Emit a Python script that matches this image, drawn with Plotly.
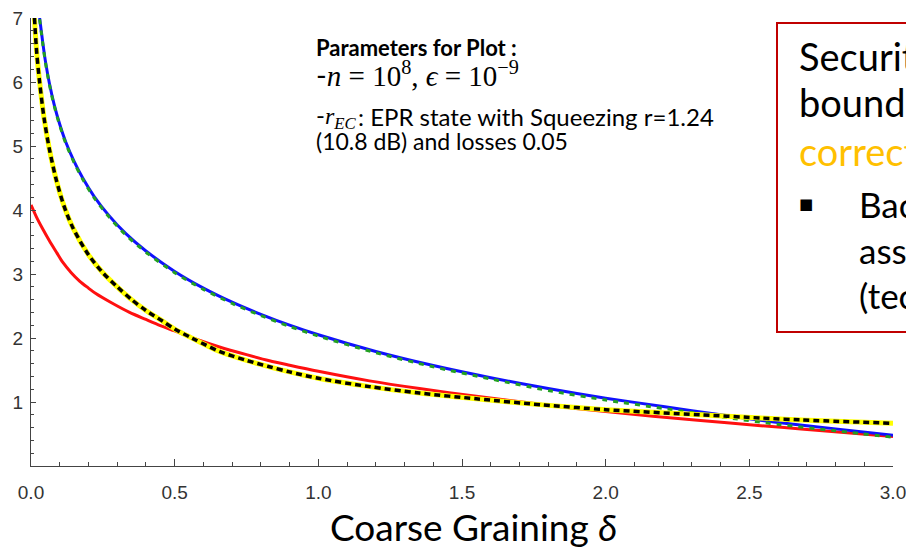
import plotly.graph_objects as go

# ---- data ----
red_x = [0.0, 0.02, 0.04, 0.064, 0.09, 0.111, 0.14, 0.169, 0.2, 0.227, 0.28, 0.343, 0.4, 0.45, 0.5,
         0.575, 0.656, 0.75, 0.83, 0.9, 1.0, 1.178, 1.352, 1.55, 1.78, 2.0, 2.33, 2.54, 2.68, 3.0]
red_y = [4.08, 3.88, 3.71, 3.52, 3.33, 3.18, 3.02, 2.89, 2.78, 2.69, 2.55, 2.40, 2.29, 2.195, 2.11,
         1.98, 1.86, 1.74, 1.645, 1.575, 1.48, 1.33, 1.21, 1.09, 0.96, 0.85, 0.71, 0.63, 0.58, 0.46]

blue_x = [0.03, 0.04, 0.05, 0.064, 0.08, 0.1, 0.122, 0.15, 0.18, 0.22, 0.27, 0.33, 0.4, 0.5,
          0.6, 0.7, 0.8, 0.9, 1.0, 1.2, 1.4, 1.6, 1.8, 2.0, 2.2, 2.4, 2.6, 2.8, 3.0]
blue_y = [7.0, 6.65, 6.33, 5.98, 5.66, 5.34, 5.05, 4.76, 4.50, 4.21, 3.92, 3.63, 3.36, 3.04,
          2.78, 2.56, 2.37, 2.20, 2.05, 1.79, 1.57, 1.38, 1.21, 1.06, 0.93, 0.80, 0.68, 0.58, 0.48]
green_y = [6.98, 6.63, 6.31, 5.96, 5.64, 5.32, 5.03, 4.74, 4.48, 4.19, 3.90, 3.61, 3.34, 3.02,
           2.76, 2.54, 2.35, 2.18, 2.03, 1.77, 1.55, 1.36, 1.18, 1.03, 0.90, 0.77, 0.65, 0.55, 0.45]

yel_x = [0.012, 0.02, 0.03, 0.045, 0.064, 0.088, 0.115, 0.146, 0.2, 0.25, 0.3, 0.35, 0.4, 0.459,
         0.5, 0.555, 0.575, 0.656, 0.75, 0.83, 0.9, 1.0, 1.178, 1.352, 1.55, 1.78, 2.0, 2.33, 2.54,
         2.68, 3.0]
yel_y = [7.0, 6.45, 6.0, 5.45, 4.95, 4.47, 4.06, 3.72, 3.30, 3.02, 2.80, 2.60, 2.43, 2.26,
         2.14, 2.01, 1.965, 1.79, 1.65, 1.55, 1.47, 1.37, 1.24, 1.14, 1.05, 0.955, 0.88, 0.80, 0.75,
         0.72, 0.667]

x_ticks = [0.0, 0.5, 1.0, 1.5, 2.0, 2.5, 3.0]
x_tick_text = ["0.0", "0.5", "1.0", "1.5", "2.0", "2.5", "3.0"]
y_ticks = [1, 2, 3, 4, 5, 6, 7]
y_tick_text = ["1", "2", "3", "4", "5", "6", "7"]

# ---- layout geometry (pixels) ----
W, H = 906, 548
ML, MR, MT, MB = 31, 13, 18, 82
PW, PH = W - ML - MR, H - MT - MB


def px(x):
    return (x - ML) / PW


def py(y):
    return (H - MB - y) / PH


fig = go.Figure()
sm = 0.8
fig.add_trace(go.Scatter(x=red_x, y=red_y, mode="lines", line=dict(color="#FF1010", width=3,
                         shape="spline", smoothing=sm)))
fig.add_trace(go.Scatter(x=blue_x, y=blue_y, mode="lines", line=dict(color="#1010FF", width=3,
                         shape="spline", smoothing=sm)))
fig.add_trace(go.Scatter(x=blue_x, y=green_y, mode="lines",
                         line=dict(color="#22A022", width=3, dash="5px,6px", shape="spline", smoothing=sm)))
fig.add_trace(go.Scatter(x=yel_x, y=yel_y, mode="lines", line=dict(color="#FFFF00", width=5,
                         shape="spline", smoothing=sm)))
fig.add_trace(go.Scatter(x=yel_x, y=yel_y, mode="lines",
                         line=dict(color="#000000", width=3.5, dash="6px,4px", shape="spline", smoothing=sm)))

axis_col = "#444444"
tick_font = dict(family="Liberation Sans, Arial, sans-serif", size=19, color="#333333")

fig.update_xaxes(range=[0, 3.0], showgrid=False, zeroline=False, showline=True, linecolor=axis_col,
                 linewidth=1, ticks="inside", ticklen=7, tickwidth=1, tickcolor=axis_col,
                 tickvals=x_ticks, ticktext=x_tick_text, tickfont=tick_font, ticklabelstandoff=9,
                 ticklabeloverflow="allow", automargin=False,
                 minor=dict(ticks="inside", ticklen=4, tickwidth=1, tickcolor=axis_col, dtick=0.1, tick0=0))
fig.update_yaxes(range=[0, 7], showgrid=False, zeroline=False, showline=True, linecolor=axis_col,
                 linewidth=1, ticks="inside", ticklen=5, tickwidth=1, tickcolor=axis_col,
                 tickvals=y_ticks, ticktext=y_tick_text, tickfont=tick_font, ticklabelstandoff=3,
                 ticklabeloverflow="allow", automargin=False,
                 minor=dict(ticks="inside", ticklen=3, tickwidth=1, tickcolor=axis_col, dtick=0.2, tick0=0))

body = "Lato, 'Open Sans', sans-serif"
math = "'Liberation Serif', 'DejaVu Serif', serif"
NB = "\u00a0"
dash_span = "<span style='font-family:Lato'>-</span>"

ann = []
# x-axis title
ann.append(dict(x=px(473), y=py(526), xref="paper", yref="paper", showarrow=False,
                text="Coarse Graining <span style='font-family:" + math + "'><i>δ</i></span>",
                font=dict(family=body, size=37, color="#000000"), xanchor="center", yanchor="middle"))
# parameter block: (text, font, size, x, y)
p_lines = [
    ("<b>Parameters for Plot :</b>", body, 22, 314, 47),
    (dash_span + "<i>n</i>" + NB + "=" + NB + "10<sup>8</sup>," + NB + "<i>ϵ</i>" + NB + "=" + NB
     + "10<sup>−9</sup>", math, 29, 314, 74),
    (dash_span + "<i>r</i><sub><i>EC</i></sub>", math, 24, 314, 116),
    (": EPR state with Squeezing r=1.24", body, 24, 356, 116),
    ("(10.8 dB) and losses 0.05", body, 23, 314, 141),
]
for t, fam, fs, xx, yy in p_lines:
    ann.append(dict(x=px(xx), y=py(yy), xref="paper", yref="paper", showarrow=False, text=t,
                    font=dict(family=fam, size=fs, color="#000000"), xanchor="left", yanchor="middle",
                    align="left"))
# right box text: (text, colour, x, y, size)
box_lines = [("Security", "#000000", 797, 56, 38), ("bounds", "#000000", 797, 102, 38),
             ("corrections", "#FFC000", 797, 151, 38), ("Backward", "#000000", 857, 204, 35),
             ("assuming", "#000000", 857, 250, 35), ("(technical", "#000000", 857, 295, 35)]
for t, c, xx, yy, fs in box_lines:
    ann.append(dict(x=px(xx), y=py(yy), xref="paper", yref="paper", showarrow=False, text=t,
                    font=dict(family=body, size=fs, color=c),
                    xanchor="left", yanchor="middle", align="left"))
ann.append(dict(x=px(797), y=py(204), xref="paper", yref="paper", showarrow=False, text="■",
                font=dict(family="DejaVu Sans", size=15, color="#000000"),
                xanchor="left", yanchor="middle"))

fig.update_layout(
    width=W, height=H, margin=dict(l=ML, r=MR, t=MT, b=MB, pad=0, autoexpand=False),
    paper_bgcolor="white", plot_bgcolor="white", showlegend=False,
    annotations=ann,
    shapes=[dict(type="rect", xref="paper", yref="paper", x0=px(777), x1=px(960), y0=py(332), y1=py(23),
                 line=dict(color="#C00000", width=2), fillcolor="rgba(0,0,0,0)", layer="above")],
)

fig.write_html("out.html", config={"displayModeBar": False},
               post_script="document.body.style.margin='0px';")
